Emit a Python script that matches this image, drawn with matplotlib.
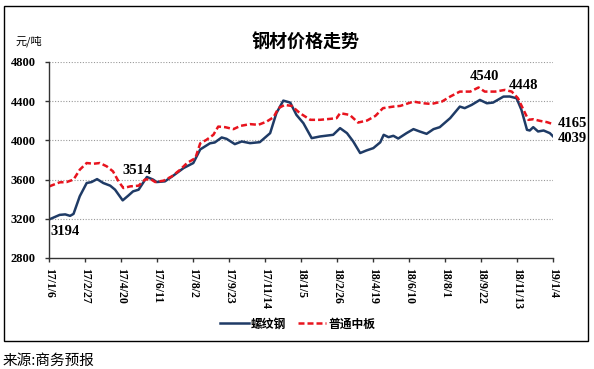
import matplotlib
matplotlib.use("Agg")
import matplotlib.pyplot as plt
from matplotlib.patches import Rectangle

# days since 2017-01-06
rebar_days = [0, 15, 23, 30, 35, 44, 54, 61, 69, 78, 88, 95, 106, 114, 121, 129,
              141, 150, 155, 167, 179, 194, 208, 218, 232, 239, 249, 256, 268, 278,
              290, 304, 319, 328, 338, 348, 357, 367, 379, 391, 410, 420, 430, 439,
              449, 458, 468, 478, 483, 490, 497, 504, 516, 526, 535, 545, 555, 564,
              579, 593, 600, 610, 622, 632, 641, 656, 665, 675, 682, 690, 694, 699,
              706, 714, 723, 728]
rebar = [3194, 3240, 3245, 3230, 3250, 3430, 3565, 3575, 3605, 3565, 3538, 3497,
         3388, 3436, 3480, 3497, 3627, 3600, 3575, 3582, 3640, 3718, 3769, 3908,
         3970, 3979, 4030, 4016, 3962, 3989, 3972, 3982, 4074, 4278, 4406, 4386,
         4260, 4176, 4023, 4040, 4057, 4125, 4074, 3989, 3871, 3897, 3921, 3980,
         4057, 4033, 4047, 4019, 4074, 4115, 4091, 4067, 4115, 4135, 4227, 4345,
         4329, 4362, 4413, 4379, 4386, 4447, 4448, 4430, 4311, 4108, 4101, 4135,
         4091, 4101, 4074, 4039]

plate_days = [0, 15, 25, 35, 44, 54, 64, 73, 83, 92, 100, 107, 117, 129, 138, 146,
              153, 165, 177, 189, 199, 211, 218, 227, 237, 244, 254, 266, 276, 290,
              302, 314, 324, 331, 340, 350, 362, 377, 391, 406, 415, 420, 434, 446,
              459, 471, 482, 497, 507, 526, 540, 552, 567, 579, 593, 608, 620, 629,
              644, 658, 668, 677, 685, 692, 699, 709, 719, 728]
plate = [3531, 3572, 3575, 3600, 3701, 3769, 3762, 3769, 3735, 3684, 3582, 3514,
         3531, 3538, 3600, 3606, 3575, 3589, 3633, 3701, 3769, 3820, 3970, 4006,
         4057, 4141, 4135, 4115, 4148, 4166, 4159, 4192, 4237, 4329, 4362, 4352,
         4278, 4210, 4210, 4220, 4227, 4278, 4260, 4182, 4203, 4250, 4329, 4345,
         4352, 4396, 4379, 4372, 4396, 4447, 4498, 4498, 4540, 4498, 4498, 4515,
         4498, 4430, 4311, 4210, 4216, 4199, 4186, 4165]

tick_days = list(range(0, 729, 52))
tick_labels = ["17/1/6", "17/2/27", "17/4/20", "17/6/11", "17/8/2", "17/9/23",
               "17/11/14", "18/1/5", "18/2/26", "18/4/19", "18/6/10", "18/8/1",
               "18/9/22", "18/11/13", "19/1/4"]

cjk = ["Noto Sans CJK SC", "DejaVu Sans"]
num_font = dict(family="Liberation Serif", fontweight="bold")

fig = plt.figure(figsize=(5.94, 3.69), dpi=100)
ax = fig.add_axes([49.3 / 594, 1 - 258 / 369, 504 / 594, 196 / 369])

ax.plot(rebar_days, rebar, color="#1F3B66", lw=1.8, label="螺纹钢")
ax.plot(plate_days, plate, color="#E8141E", lw=1.8, ls=(0, (2.4, 1.2)), label="普通中板")

ax.set_xlim(0, 728)
ax.set_ylim(2800, 4800)
ax.set_yticks(range(2800, 4801, 400))
ax.set_xticks(tick_days)
ax.set_xticklabels(tick_labels, rotation=270, **num_font, fontsize=8.5)
for lab in ax.get_yticklabels():
    lab.set_fontfamily("Liberation Serif")
    lab.set_fontweight("bold")
    lab.set_fontsize(9)

for y in range(3200, 4801, 400):
    ax.axhline(y, color="#999999", lw=0.8, ls=(0, (1, 1.5)), zorder=0)

for s in ["top", "right"]:
    ax.spines[s].set_visible(False)
for s in ["left", "bottom"]:
    ax.spines[s].set_color("#333333")
    ax.spines[s].set_linewidth(1)
ax.tick_params(direction="out", length=3, width=1, color="#333333")
ax.tick_params(axis="y", pad=7)
ax.tick_params(axis="x", pad=4)

# value labels
def note(txt, x, y, dx, dy, ha="center"):
    ax.annotate(txt, (x, y), xytext=(dx, dy), textcoords="offset pixels",
                ha=ha, va="center", fontsize=10.5, **num_font)

note("3194", 0, 3194, 1, -12, ha="left")
note("3514", 107, 3514, 14, 18)
note("4540", 620, 4540, 6, 11)
note("4448", 665, 4448, 14, 11)
note("4165", 728, 4165, 4, 1, ha="left")
note("4039", 728, 4039, 4, -2, ha="left")

fig.text(306 / 594, 1 - 42 / 369, "钢材价格走势", family=cjk, fontsize=13,
         fontweight="bold", ha="center", va="center")
fig.text(15 / 594, 1 - 41 / 369, "元/吨", family=cjk, fontsize=8, ha="left", va="center")

fig.legend(loc="center", bbox_to_anchor=(298 / 594, 1 - 324 / 369), ncol=2,
           frameon=False, prop={"family": cjk, "size": 8.5, "weight": "bold"},
           handlelength=2.4, handletextpad=0.2, columnspacing=1.0)

fig.patches.append(Rectangle((3.5 / 594, 1 - 340.5 / 369), 584 / 594, 335 / 369,
                             transform=fig.transFigure, fill=False, ec="black", lw=1))
fig.text(3 / 594, 1 - 361 / 369, "来源:商务预报", family=cjk, fontsize=10.5,
         ha="left", va="center")

fig.savefig("out.png", dpi=100)
